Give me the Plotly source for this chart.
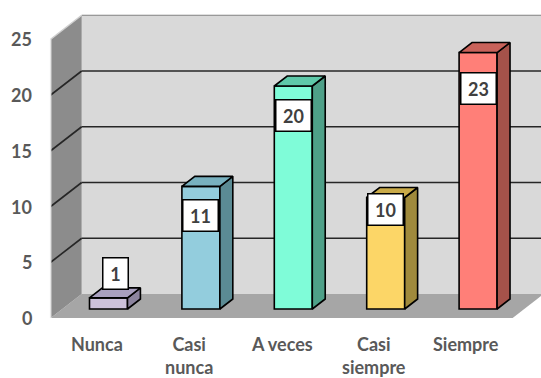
import plotly.graph_objects as go

# ---------------- data ----------------
categories = ["Nunca", "Casi<br>nunca", "A veces", "Casi<br>siempre", "Siempre"]
values = [1, 11, 20, 10, 23]
y_ticks = [0, 5, 10, 15, 20, 25]

# ---------------- styles ----------------
front_colors = ["#ccc1da", "#93cddd", "#7ffcd8", "#fcd667", "#ff7f78"]
top_colors = ["#a9a0bf", "#78b1bf", "#5ec9a9", "#c9aa48", "#c8625a"]
side_colors = ["#8c849e", "#5b8b94", "#4ea088", "#a08a3c", "#a5524a"]
label_shift = [24, -29, -29, -12, -36]
label_xshift = [7, 0, 0, 0, 0]

W, H = 541, 378
PX_X = 92.4      # px per category step
PX_Y = 11.15     # px per value unit
X0_PX = 108.5    # pixel x of first category (bar front plane)
Y0_PX = 309      # pixel y of zero (bar front plane)
DEPTH_RATIO = 31 / 24
D_FRONT, D_BACK, D_BAR = -9, 15, 10
BAR_W = 38 / PX_X
XL, XR, YT = -0.5, 4.5, 25

TXT_FONT = "Lato, 'Open Sans', sans-serif"


def P(x, y, d):
    return x + d * DEPTH_RATIO / PX_X, y + d / PX_Y


def path(pts):
    return "M " + " L ".join(f"{x},{y}" for x, y in pts) + " Z"


shapes = []
# floor
shapes.append(dict(type="path", xref="x", yref="y", layer="below",
                   path=path([P(XL, 0, D_FRONT), P(XR, 0, D_FRONT), P(XR, 0, D_BACK), P(XL, 0, D_BACK)]),
                   fillcolor="#a6a6a6", line=dict(width=0)))
# back wall
shapes.append(dict(type="path", xref="x", yref="y", layer="below",
                   path=path([P(XL, 0, D_BACK), P(XR + 0.3, 0, D_BACK), P(XR + 0.3, YT, D_BACK), P(XL, YT, D_BACK)]),
                   fillcolor="#d9d9d9", line=dict(width=0)))
# left wall
shapes.append(dict(type="path", xref="x", yref="y", layer="below",
                   path=path([P(XL, 0, D_FRONT), P(XL, 0, D_BACK), P(XL, YT, D_BACK), P(XL, YT, D_FRONT)]),
                   fillcolor="#8c8c8c", line=dict(width=0)))
# gridlines
for v in y_ticks[1:-1]:
    x1, y1 = P(XL, v, D_BACK)
    x2, y2 = P(XR + 0.3, v, D_BACK)
    shapes.append(dict(type="line", xref="x", yref="y", layer="below", x0=x1, y0=y1, x1=x2, y1=y2,
                       line=dict(color="#262626", width=1.6)))
    x0, y0 = P(XL, v, D_FRONT)
    shapes.append(dict(type="line", xref="x", yref="y", layer="below", x0=x0, y0=y0, x1=x1, y1=y1,
                       line=dict(color="#262626", width=1.6)))
# top edges
a = P(XL, YT, D_BACK)
b = P(XR + 0.3, YT, D_BACK)
c = P(XL, YT, D_FRONT)
e = P(XL, 0, D_FRONT)
shapes.append(dict(type="line", xref="x", yref="y", layer="below", x0=a[0], y0=a[1], x1=b[0], y1=b[1],
                   line=dict(color="#808080", width=1.2)))
shapes.append(dict(type="line", xref="x", yref="y", layer="below", x0=c[0], y0=c[1], x1=a[0], y1=a[1],
                   line=dict(color="#d0d0d0", width=1.5)))
shapes.append(dict(type="line", xref="x", yref="y", layer="below", x0=e[0], y0=e[1], x1=c[0], y1=c[1],
                   line=dict(color="#e6e6e6", width=1.5)))

fig = go.Figure()
xs = list(range(len(values)))
fig.add_trace(go.Bar(x=xs, y=values, width=BAR_W, base=0,
                     marker=dict(color=front_colors, line=dict(color="#000000", width=1.6)),
                     hoverinfo="skip", showlegend=False))

hw = BAR_W / 2
for i, v in enumerate(values):
    side = [P(i + hw, 0, 0), P(i + hw, 0, D_BAR), P(i + hw, v, D_BAR), P(i + hw, v, 0), P(i + hw, 0, 0)]
    top = [P(i - hw, v, 0), P(i + hw, v, 0), P(i + hw, v, D_BAR), P(i - hw, v, D_BAR), P(i - hw, v, 0)]
    for pts, col in ((side, side_colors[i]), (top, top_colors[i])):
        fig.add_trace(go.Scatter(x=[p[0] for p in pts], y=[p[1] for p in pts], mode="lines",
                                 fill="toself", fillcolor=col,
                                 line=dict(color="#000000", width=1.6),
                                 hoverinfo="skip", showlegend=False))

annotations = []
# data labels
for i, v in enumerate(values):
    annotations.append(dict(x=i, y=v, xref="x", yref="y", text=f"<b>{v}</b>", showarrow=False,
                            yshift=label_shift[i], xshift=label_xshift[i],
                            bgcolor="#ffffff", bordercolor="#000000",
                            borderwidth=1.5, borderpad=0, width=14 + 10 * len(str(v)), height=30,
                            font=dict(family=TXT_FONT, size=18, color="#404040")))
# y tick labels
for v in y_ticks:
    x0, y0 = P(XL, v, D_FRONT)
    annotations.append(dict(x=x0, y=y0, xref="x", yref="y", text=f"<b>{v}</b>", showarrow=False,
                            xanchor="right", yanchor="middle", xshift=-17,
                            font=dict(family=TXT_FONT, size=18, color="#595959")))
# category labels
for i, cat in enumerate(categories):
    x0, y0 = P(i, 0, D_FRONT)
    annotations.append(dict(x=x0, y=y0, xref="x", yref="y", text=f"<b>{cat}</b>", showarrow=False,
                            xanchor="center", yanchor="top", yshift=-13,
                            font=dict(family=TXT_FONT, size=18, color="#595959")))

fig.update_layout(
    width=W, height=H,
    margin=dict(l=0, r=0, t=0, b=0),
    paper_bgcolor="#ffffff", plot_bgcolor="#ffffff",
    xaxis=dict(range=[(0 - X0_PX) / PX_X, (W - X0_PX) / PX_X], visible=False, fixedrange=True),
    yaxis=dict(range=[(Y0_PX - H) / PX_Y, Y0_PX / PX_Y], visible=False, fixedrange=True),
    shapes=shapes, annotations=annotations, showlegend=False,
)

fig.write_html("out.html")
